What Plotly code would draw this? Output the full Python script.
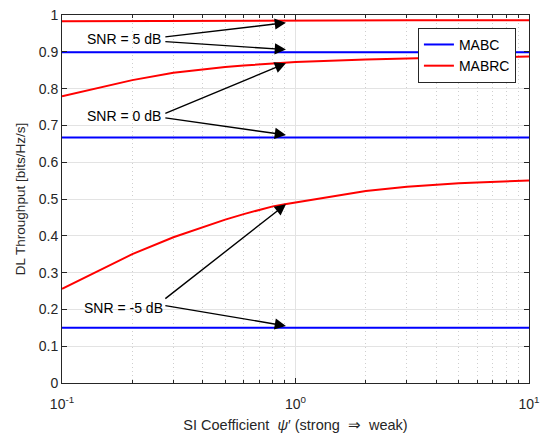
import math
import plotly.graph_objects as go

psi = [0.1, 0.2, 0.3, 0.4, 0.5, 0.6, 0.7, 0.8, 0.9, 1, 2, 3, 4, 5, 6, 7, 8, 9, 10]

mabrc_5db = [0.983, 0.984, 0.984, 0.985, 0.985, 0.985, 0.985, 0.985, 0.985, 0.985,
             0.986, 0.986, 0.986, 0.986, 0.986, 0.986, 0.986, 0.986, 0.986]
mabrc_0db = [0.779, 0.823, 0.843, 0.853, 0.859, 0.863, 0.866, 0.869, 0.871, 0.872,
             0.879, 0.882, 0.884, 0.885, 0.885, 0.886, 0.886, 0.886, 0.887]
mabrc_m5db = [0.256, 0.350, 0.396, 0.424, 0.444, 0.459, 0.471, 0.480, 0.486, 0.491,
              0.522, 0.533, 0.539, 0.543, 0.545, 0.547, 0.548, 0.549, 0.550]
mabc_5db = [0.899] * len(psi)
mabc_0db = [0.667] * len(psi)
mabc_m5db = [0.150] * len(psi)

snr_labels = ["SNR = 5 dB", "SNR = 0 dB", "SNR = -5 dB"]
# arrow targets (y values) for each label: (MABRC, MABC)
arrow_targets = [(0.979, 0.906), (0.869, 0.674), (0.486, 0.155)]
label_y = [0.934, 0.725, 0.203]
tail_dy = [(0.006, -0.006), (0.006, -0.004), (0.023, 0.008)]
label_x = [0.1265, 0.1265, 0.1225]
arrow_tip_x = 0.91
arrow_tail_x = 0.273

fig = go.Figure()

series = [
    ("MABC", mabc_5db, "#0000ff", True),
    ("MABC", mabc_0db, "#0000ff", False),
    ("MABC", mabc_m5db, "#0000ff", False),
    ("MABRC", mabrc_5db, "#ff0000", True),
    ("MABRC", mabrc_0db, "#ff0000", False),
    ("MABRC", mabrc_m5db, "#ff0000", False),
]
for name, ys, col, show in series:
    fig.add_trace(go.Scatter(x=psi, y=ys, mode="lines", name=name, legendgroup=name,
                             showlegend=show, line=dict(color=col, width=2)))

font_family = "Liberation Sans, Arial, sans-serif"
txt = "#262626"

annotations = []
for lab, lx, ly, (t1, t2), (d1, d2) in zip(snr_labels, label_x, label_y, arrow_targets, tail_dy):
    annotations.append(dict(x=math.log10(lx), y=ly, xref="x", yref="y", text=lab,
                            showarrow=False, xanchor="left", yanchor="middle",
                            borderpad=0,
                            font=dict(family=font_family, size=14, color="#000000")))
    for ty, dy in ((t1, d1), (t2, d2)):
        annotations.append(dict(x=math.log10(arrow_tip_x), y=ty, xref="x", yref="y",
                                ax=math.log10(arrow_tail_x), ay=ly + dy, axref="x", ayref="y",
                                text="", showarrow=True, arrowhead=2, arrowsize=1.6,
                                arrowwidth=1.4, arrowcolor="#000000"))

fig.update_layout(
    width=550, height=433,
    margin=dict(l=62, r=21, t=15, b=50, autoexpand=False),
    paper_bgcolor="white", plot_bgcolor="white",
    font=dict(family=font_family, size=13, color=txt),
    showlegend=True,
    legend=dict(x=0.972, y=0.965, xanchor="right", yanchor="top",
                bgcolor="white", bordercolor="#262626", borderwidth=1,
                font=dict(size=14, color="#000000"), tracegroupgap=0),
    annotations=annotations,
)

fig.update_xaxes(
    type="log", range=[-1, 1], automargin=False,
    tickvals=[0.1, 1, 10], ticktext=["10<sup>-1</sup>", "10<sup>0</sup>", "10<sup>1</sup>"],
    ticks="inside", ticklen=5, tickcolor="#262626", mirror="allticks",
    ticklabelstandoff=8,
    showline=True, linecolor="#262626", linewidth=1,
    showgrid=True, gridcolor="#e3e3e3", gridwidth=1,
    minor=dict(tickvals=[0.2, 0.3, 0.4, 0.5, 0.6, 0.7, 0.8, 0.9, 2, 3, 4, 5, 6, 7, 8, 9],
               ticks="inside", ticklen=3, tickcolor="#262626",
               showgrid=True, gridcolor="#cfcfcf", griddash="1px,3px", gridwidth=1),
    title=dict(text="SI Coefficient  <i>ψ</i>′ (strong  ⇒  weak)", standoff=12,
               font=dict(size=14.5, color=txt)),
    tickfont=dict(size=14, color=txt),
    zeroline=False,
)
fig.update_yaxes(
    range=[0, 1], dtick=0.1, tickformat="~g", automargin=False,
    ticks="inside", ticklen=5, tickcolor="#262626", mirror="allticks",
    ticklabeloverflow="allow",
    showline=True, linecolor="#262626", linewidth=1,
    showgrid=True, gridcolor="#e3e3e3", gridwidth=1,
    title=dict(text="DL Throughput [bits/Hz/s]", standoff=10, font=dict(size=13.5, color=txt)),
    tickfont=dict(size=14, color=txt),
    zeroline=False,
)

fig.write_html("out.html", config={"displayModeBar": False},
               post_script="document.body.style.margin='0px';document.body.style.overflow='hidden';")
